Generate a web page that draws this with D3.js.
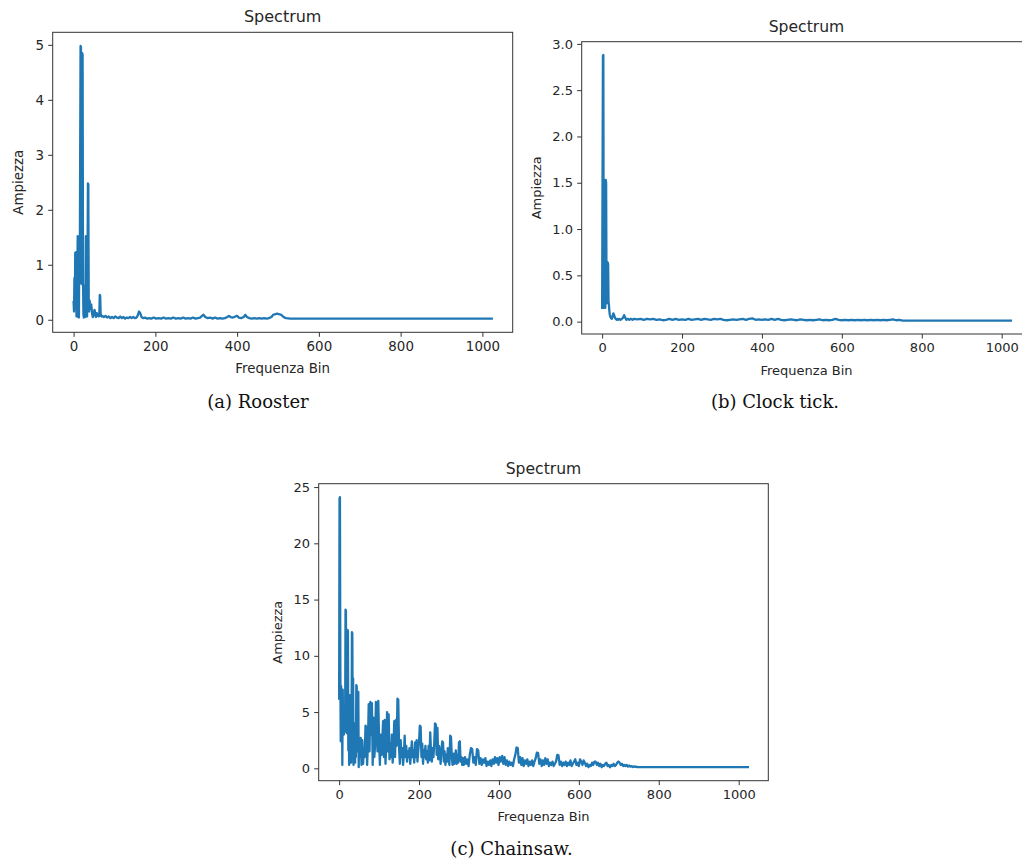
<!DOCTYPE html>
<html>
<head>
<meta charset="utf-8">
<script src="https://cdn.jsdelivr.net/npm/d3@7"></script>
<style>
  html, body { margin: 0; padding: 0; background: #fff; overflow: hidden; }
  svg { display: block; }
</style>
</head>
<body>
<svg id="fig" width="1022" height="866"></svg>
<script>
// Magnitude spectra, [frequency bin, amplitude]
const roosterSpectrum = [
  [0,0.32],[1,0.15],[2,0.76],[3,0.22],[4,1.22],[5,0.35],[6,1.23],[7,0.06],[8,1.21],[9,0.70],
  [10,1.52],[11,0.05],[12,1.51],[13,0.04],[14,1.48],[15,0.66],[16,2.90],[17,4.98],[18,4.96],[19,0.68],
  [20,0.65],[21,4.85],[22,4.82],[23,0.70],[24,0.10],[25,0.04],[26,0.40],[27,0.06],[28,0.62],[29,0.05],
  [30,1.52],[31,0.12],[32,0.30],[33,0.06],[34,0.90],[35,2.48],[36,2.46],[37,0.30],[38,0.15],[39,0.35],
  [40,0.30],[41,0.26],[42,0.20],[43,0.28],[44,0.22],[45,0.12],[46,0.08],[47,0.05],[48,0.06],[49,0.10],
  [50,0.14],[51,0.18],[52,0.16],[53,0.12],[54,0.07],[55,0.05],[56,0.08],[57,0.12],[58,0.09],[59,0.07],
  [60,0.10],[61,0.08],[62,0.06],[63,0.12],[64,0.45],[65,0.44],[66,0.12],[67,0.08],[68,0.06],[70,0.07],
  [74,0.05],[78,0.07],[82,0.04],[86,0.06],[90,0.03],[94,0.05],[98,0.03],[102,0.06],[106,0.04],[110,0.03],
  [114,0.06],[118,0.03],[122,0.05],[126,0.02],[130,0.04],[134,0.03],[138,0.05],[142,0.03],[146,0.05],[150,0.03],
  [154,0.04],[157,0.08],[160,0.15],[163,0.12],[166,0.05],[170,0.03],[175,0.04],[180,0.02],[185,0.03],[190,0.02],
  [196,0.04],[202,0.02],[208,0.03],[214,0.02],[220,0.04],[226,0.02],[232,0.03],[238,0.02],[244,0.04],[250,0.02],
  [256,0.03],[262,0.02],[268,0.04],[274,0.02],[280,0.03],[286,0.02],[292,0.04],[298,0.02],[304,0.03],[310,0.04],
  [314,0.07],[318,0.09],[322,0.05],[328,0.03],[334,0.04],[340,0.02],[346,0.04],[352,0.02],[358,0.03],[364,0.02],
  [370,0.03],[376,0.05],[380,0.07],[384,0.05],[390,0.04],[396,0.06],[400,0.07],[404,0.04],[410,0.03],[416,0.05],
  [420,0.09],[424,0.05],[430,0.03],[436,0.02],[442,0.03],[448,0.02],[454,0.03],[460,0.02],[466,0.03],[472,0.02],
  [478,0.03],[484,0.05],[488,0.09],[492,0.10],[498,0.11],[504,0.10],[508,0.09],[512,0.06],[516,0.04],[520,0.03],
  [530,0.02],[600,0.02],[700,0.02],[800,0.02],[900,0.02],[1023,0.02]
];

const clockTickSpectrum = [
  [0,0.15],[1,1.50],[2,2.87],[3,2.88],[4,0.15],[5,1.53],[6,0.30],[7,1.52],[8,0.15],[9,1.53],
  [10,1.50],[11,0.25],[12,0.64],[13,0.20],[14,0.64],[15,0.62],[16,0.22],[17,0.18],[18,0.12],[19,0.08],
  [20,0.06],[21,0.05],[22,0.04],[23,0.05],[24,0.03],[26,0.06],[28,0.09],[30,0.07],[32,0.04],[34,0.03],
  [36,0.02],[38,0.03],[40,0.02],[43,0.03],[46,0.02],[49,0.03],[52,0.04],[55,0.07],[58,0.04],[61,0.02],
  [64,0.03],[68,0.02],[72,0.03],[76,0.02],[80,0.03],[88,0.025],[96,0.03],[104,0.02],[112,0.03],[120,0.025],
  [128,0.03],[136,0.02],[144,0.025],[152,0.015],[160,0.02],[168,0.03],[176,0.02],[184,0.03],[192,0.02],[200,0.025],
  [208,0.02],[216,0.03],[224,0.02],[232,0.025],[240,0.03],[248,0.02],[256,0.03],[264,0.025],[272,0.02],[280,0.03],
  [288,0.025],[296,0.03],[304,0.02],[312,0.015],[320,0.02],[328,0.025],[336,0.02],[344,0.025],[352,0.03],[360,0.02],
  [368,0.03],[376,0.035],[384,0.02],[392,0.025],[400,0.02],[408,0.025],[416,0.02],[424,0.03],[432,0.02],[440,0.03],
  [448,0.02],[456,0.015],[464,0.02],[472,0.025],[480,0.02],[488,0.015],[496,0.025],[504,0.02],[512,0.015],[520,0.02],
  [528,0.015],[536,0.02],[544,0.025],[552,0.015],[560,0.02],[568,0.015],[576,0.02],[584,0.03],[592,0.02],[600,0.015],
  [608,0.02],[616,0.015],[624,0.02],[632,0.015],[640,0.02],[648,0.015],[656,0.02],[664,0.015],[672,0.02],[680,0.015],
  [688,0.02],[696,0.015],[704,0.02],[712,0.015],[720,0.02],[728,0.025],[736,0.015],[744,0.02],[752,0.012],[800,0.012],
  [900,0.011],[1023,0.01]
];

const chainsawSpectrum = [
  [0,6.2],[1,24.0],[2,24.1],[3,8.8],[4,2.4],[5,7.3],[6,2.6],[7,6.8],[8,0.3],[9,7.0],
  [10,3.2],[11,4.5],[12,3.0],[13,5.0],[14,3.2],[15,4.0],[16,14.1],[17,14.0],[18,3.6],[19,8.0],
  [20,3.1],[21,12.3],[22,12.2],[23,1.6],[24,5.5],[25,0.3],[26,2.5],[27,6.5],[28,1.2],[29,4.0],
  [30,0.5],[31,2.8],[32,12.1],[33,12.0],[34,3.0],[35,8.0],[36,0.3],[37,3.5],[38,1.2],[39,4.0],
  [40,0.5],[41,3.3],[42,1.0],[43,7.4],[44,7.3],[45,2.0],[46,5.0],[47,1.5],[48,6.8],[49,0.1],
  [50,2.5],[52,1.0],[54,2.7],[56,0.3],[58,2.5],[60,0.4],[62,1.8],[64,1.0],[66,3.8],[68,3.7],
  [70,0.3],[72,2.0],[74,5.7],[76,1.5],[78,5.9],[80,3.0],[82,5.8],[84,0.3],[86,4.5],[88,1.0],
  [90,2.0],[92,5.9],[94,5.8],[96,1.5],[98,6.0],[100,2.5],[102,0.3],[104,3.0],[106,1.2],[108,2.5],
  [110,4.2],[112,1.0],[114,4.3],[116,0.4],[118,2.0],[120,5.0],[122,1.5],[124,4.8],[126,0.8],[128,2.2],
  [130,1.0],[132,3.0],[134,0.5],[136,1.8],[138,4.2],[140,1.0],[142,4.3],[144,2.0],[146,6.2],[148,6.1],
  [150,1.8],[152,0.4],[154,2.5],[156,1.0],[158,1.8],[160,0.3],[162,1.2],[164,2.9],[166,1.0],[168,2.0],
  [170,0.6],[172,1.5],[174,1.0],[176,1.8],[178,0.4],[180,1.4],[182,2.4],[184,1.0],[186,1.6],[188,0.5],
  [190,2.3],[192,1.0],[194,2.5],[196,0.6],[198,1.5],[200,2.4],[202,3.8],[204,3.7],[206,1.0],[208,2.2],
  [210,0.4],[212,1.6],[214,1.0],[216,2.0],[218,0.8],[220,1.5],[222,0.5],[224,2.0],[226,0.7],[228,3.2],
  [230,1.5],[232,0.6],[234,1.8],[236,1.0],[238,2.2],[240,4.0],[242,3.9],[244,1.2],[246,3.6],[248,0.8],
  [250,2.0],[252,1.5],[254,0.4],[256,1.6],[258,2.4],[260,2.3],[262,0.6],[264,1.5],[266,0.3],[268,1.2],
  [270,0.6],[272,1.8],[274,0.9],[276,0.3],[278,2.9],[280,2.8],[282,1.0],[284,0.3],[286,1.3],[288,0.4],
  [290,0.9],[292,1.6],[294,0.4],[296,1.2],[298,0.5],[300,2.3],[302,2.4],[304,0.6],[306,1.0],[308,0.3],
  [310,0.9],[312,0.3],[315,1.0],[318,0.4],[321,0.8],[324,0.2],[327,1.2],[330,1.8],[333,1.7],[336,0.5],
  [339,1.0],[342,0.3],[345,1.7],[348,1.6],[351,0.4],[354,0.9],[357,0.3],[360,0.8],[363,0.5],[366,0.9],
  [369,0.2],[372,0.6],[375,0.3],[378,0.7],[381,0.2],[384,0.8],[387,0.4],[390,1.0],[393,0.5],[396,0.9],
  [399,0.3],[402,1.0],[405,0.6],[408,1.1],[411,0.4],[414,1.0],[417,0.3],[420,0.7],[423,0.2],[426,0.6],
  [429,0.3],[432,0.5],[435,0.2],[438,0.8],[441,1.2],[444,1.85],[447,1.8],[450,0.5],[453,1.0],[456,0.3],
  [459,0.9],[462,0.2],[465,0.7],[468,0.4],[471,0.8],[474,0.2],[477,0.6],[480,0.3],[483,0.7],[486,0.2],
  [489,0.6],[492,0.9],[495,1.4],[498,1.35],[501,0.4],[504,0.8],[507,0.2],[510,0.7],[513,0.3],[516,0.9],
  [519,0.4],[522,0.8],[525,0.2],[528,0.5],[531,0.3],[534,0.6],[537,0.2],[540,0.4],[543,0.6],[546,1.2],
  [549,1.15],[552,0.3],[555,0.6],[558,0.2],[561,0.5],[564,0.3],[567,0.6],[570,0.2],[573,0.5],[576,0.3],
  [579,0.7],[582,0.2],[585,0.4],[588,0.6],[591,0.8],[594,0.3],[597,0.5],[600,0.2],[603,0.8],[606,0.6],
  [609,0.3],[612,0.7],[615,0.5],[618,0.2],[621,0.4],[624,0.1],[627,0.3],[630,0.2],[633,0.5],[636,0.3],
  [639,0.6],[642,0.6],[645,0.3],[648,0.5],[651,0.2],[654,0.4],[657,0.1],[660,0.3],[663,0.2],[666,0.4],
  [669,0.5],[672,0.2],[675,0.3],[678,0.1],[681,0.3],[684,0.2],[687,0.4],[690,0.2],[693,0.3],[696,0.5],
  [699,0.6],[702,0.5],[705,0.3],[708,0.4],[711,0.2],[714,0.3],[717,0.2],[720,0.3],[723,0.15],[726,0.25],
  [729,0.15],[732,0.2],[735,0.12],[738,0.18],[741,0.12],[744,0.15],[747,0.1],[760,0.1],[800,0.1],[850,0.1],
  [900,0.1],[950,0.1],[1000,0.1],[1023,0.1]
];

const xTicks = [0, 200, 400, 600, 800, 1000];
const roosterYTicks = [0, 1, 2, 3, 4, 5];
const clockYTicks = [0, 0.5, 1, 1.5, 2, 2.5, 3];
const chainsawYTicks = [0, 5, 10, 15, 20, 25];
const captions = ["(a) Rooster", "(b) Clock tick.", "(c) Chainsaw."];
const titleText = "Spectrum";
const xLabelText = "Frequenza Bin";
const yLabelText = "Ampiezza";

const LINE_COLOR = "#1f77b4";
const TEXT_COLOR = "#262626";
const SANS = "'DejaVu Sans', sans-serif";
const SERIF = "'DejaVu Serif', serif";

// Each subplot: axes box in pixels, font sizes and caption placement
const panels = [
  { data: roosterSpectrum, yTicks: roosterYTicks, fmt: d3.format("d"), caption: captions[0],
    box: { x: 52.7, y: 32.3, w: 460, h: 300 }, font: 13.4, titleFont: 16, yLabelOff: 29.6,
    capX: 258, capY: 408 },
  { data: clockTickSpectrum, yTicks: clockYTicks, fmt: d3.format(".1f"), caption: captions[1],
    box: { x: 581.7, y: 41.7, w: 449.6, h: 292.3 }, font: 13, titleFont: 15.6, yLabelOff: 41,
    capX: 775, capY: 408 },
  { data: chainsawSpectrum, yTicks: chainsawYTicks, fmt: d3.format("d"), caption: captions[2],
    box: { x: 318.7, y: 483.7, w: 449.6, h: 297 }, font: 13, titleFont: 15.6, yLabelOff: 36.7,
    capX: 511.5, capY: 854.5 }
];

// Auto-limits with 5% margins on both sides, like matplotlib's default
function padded(extent) {
  const r = extent[1] - extent[0];
  return [extent[0] - 0.05 * r, extent[1] + 0.05 * r];
}

const svg = d3.select("#fig");
svg.append("rect").attr("width", 1022).attr("height", 866).attr("fill", "#fff");

panels.forEach((p, i) => {
  const { x, y, w, h } = p.box;
  const g = svg.append("g");

  const xScale = d3.scaleLinear()
    .domain(padded(d3.extent(p.data, d => d[0])))
    .range([x, x + w]);
  const yScale = d3.scaleLinear()
    .domain(padded(d3.extent(p.data, d => d[1])))
    .range([y + h, y]);

  const clipId = "clip" + i;
  g.append("clipPath").attr("id", clipId)
    .append("rect").attr("x", x).attr("y", y).attr("width", w).attr("height", h);

  // spectrum line
  g.append("path")
    .datum(p.data)
    .attr("clip-path", `url(#${clipId})`)
    .attr("fill", "none")
    .attr("stroke", LINE_COLOR)
    .attr("stroke-width", 2.3)
    .attr("stroke-linejoin", "round")
    .attr("stroke-linecap", "square")
    .attr("d", d3.line().x(d => xScale(d[0])).y(d => yScale(d[1])));

  // axes
  const xAxis = g.append("g")
    .attr("transform", `translate(0,${y + h})`)
    .call(d3.axisBottom(xScale).tickValues(xTicks).tickFormat(d3.format("d"))
      .tickSize(4.5).tickPadding(4.2));
  const yAxis = g.append("g")
    .attr("transform", `translate(${x},0)`)
    .call(d3.axisLeft(yScale).tickValues(p.yTicks).tickFormat(p.fmt)
      .tickSize(4.5).tickPadding(4.2));

  [xAxis, yAxis].forEach(ax => {
    ax.select(".domain").remove();
    ax.selectAll(".tick line").attr("stroke", "#333").attr("stroke-width", 1);
    ax.selectAll(".tick text")
      .attr("fill", TEXT_COLOR)
      .style("font-family", SANS)
      .style("font-size", p.font + "px");
  });

  // frame
  g.append("rect")
    .attr("x", x).attr("y", y).attr("width", w).attr("height", h)
    .attr("fill", "none").attr("stroke", "#333").attr("stroke-width", 1);

  // title
  g.append("text")
    .attr("x", x + w / 2).attr("y", y - 10)
    .attr("text-anchor", "middle")
    .attr("fill", TEXT_COLOR)
    .style("font-family", SANS).style("font-size", p.titleFont + "px")
    .text(titleText);

  // axis labels
  g.append("text")
    .attr("x", x + w / 2).attr("y", y + h + 40.5)
    .attr("text-anchor", "middle")
    .attr("fill", TEXT_COLOR)
    .style("font-family", SANS).style("font-size", p.font + "px")
    .text(xLabelText);

  g.append("text")
    .attr("transform", `translate(${x - p.yLabelOff},${y + h / 2}) rotate(-90)`)
    .attr("text-anchor", "middle")
    .attr("fill", TEXT_COLOR)
    .style("font-family", SANS).style("font-size", p.font + "px")
    .text(yLabelText);

  // sub-figure caption
  svg.append("text")
    .attr("x", p.capX).attr("y", p.capY)
    .attr("text-anchor", "middle")
    .attr("fill", "#111")
    .style("font-family", SERIF).style("font-size", "18px")
    .text(p.caption);
});
</script>
</body>
</html>
